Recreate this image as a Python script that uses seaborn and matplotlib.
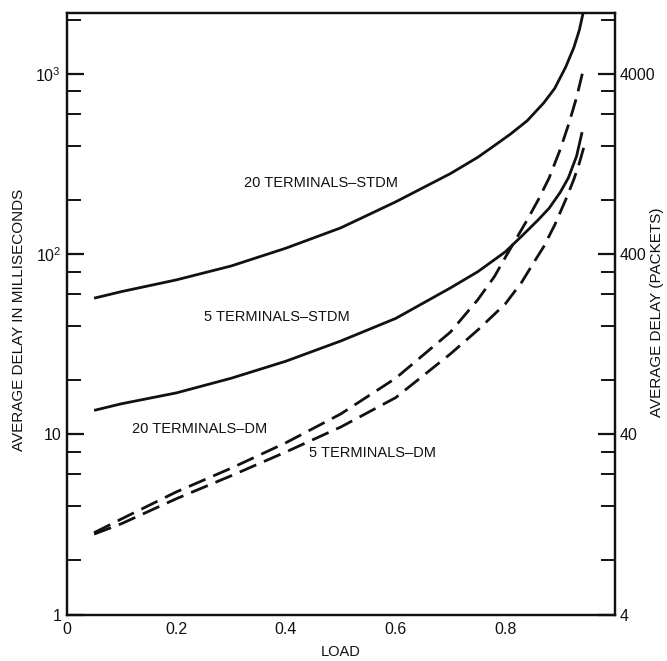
import numpy as np
import pandas as pd
import matplotlib
matplotlib.use("Agg")
import matplotlib.pyplot as plt
from matplotlib.ticker import FixedLocator, FixedFormatter, NullFormatter
import seaborn as sns

# ---- data ----
load_20_stdm = [0.05, 0.10, 0.20, 0.30, 0.40, 0.50, 0.60, 0.70, 0.75, 0.78, 0.81,
                0.84, 0.87, 0.89, 0.91, 0.925, 0.935, 0.945]
delay_20_stdm = [57, 62, 72, 86, 108, 140, 195, 280, 345, 400, 465,
                 550, 690, 830, 1090, 1400, 1750, 2400]

load_5_stdm = [0.05, 0.10, 0.20, 0.30, 0.40, 0.50, 0.60, 0.70, 0.75, 0.80, 0.83,
               0.86, 0.88, 0.90, 0.915, 0.93, 0.94]
delay_5_stdm = [13.6, 14.8, 17, 20.5, 25.5, 33, 44, 65, 80, 103, 126,
                155, 180, 220, 265, 350, 475]

load_20_dm = [0.05, 0.10, 0.20, 0.30, 0.40, 0.50, 0.60, 0.70, 0.75, 0.78, 0.80,
              0.82, 0.84, 0.86, 0.88, 0.90, 0.915, 0.93, 0.943]
delay_20_dm = [2.85, 3.4, 4.8, 6.5, 9.0, 13, 20.5, 37, 56, 75, 96,
               122, 155, 200, 265, 380, 520, 740, 1080]

load_5_dm = [0.05, 0.10, 0.20, 0.30, 0.40, 0.50, 0.60, 0.70, 0.75, 0.80, 0.83,
             0.85, 0.87, 0.89, 0.91, 0.925, 0.935, 0.943]
delay_5_dm = [2.8, 3.2, 4.4, 5.9, 8.0, 11, 16, 28, 38, 53, 70,
              88, 110, 145, 200, 260, 320, 390]

series = [
    ("20 TERMINALS\u2013STDM", load_20_stdm, delay_20_stdm, "solid"),
    ("5 TERMINALS\u2013STDM", load_5_stdm, delay_5_stdm, "solid"),
    ("20 TERMINALS\u2013DM", load_20_dm, delay_20_dm, "dashed"),
    ("5 TERMINALS\u2013DM", load_5_dm, delay_5_dm, "dashed"),
]

x_ticks = [0, 0.2, 0.4, 0.6, 0.8]
x_ticklabels = ["0", "0.2", "0.4", "0.6", "0.8"]
y_major = [1, 10, 100, 1000]
y_major_labels = ["1", "10", r"$\mathregular{10^{2}}$", r"$\mathregular{10^{3}}$"]
y_minor = [m * 10 ** k for k in range(0, 4) for m in (2, 4, 6, 8)]
r_major = [4, 40, 400, 4000]
r_major_labels = ["4", "40", "400", "4000"]
r_minor = [m * 10 ** k for k in range(0, 4) for m in (8, 16, 24, 32)]

# curve label annotations: (text, x, y)
labels = [
    ("20 TERMINALS\u2013STDM", 0.323, 247),
    ("5 TERMINALS\u2013STDM", 0.251, 45),
    ("20 TERMINALS\u2013DM", 0.119, 10.7),
    ("5 TERMINALS\u2013DM", 0.442, 7.85),
]

# ---- style ----
sns.set_theme(style="white")
plt.rcParams["font.family"] = ["Liberation Sans", "DejaVu Sans"]
plt.rcParams["mathtext.fontset"] = "custom"
plt.rcParams["mathtext.rm"] = "Liberation Sans"
plt.rcParams["mathtext.it"] = "Liberation Sans"
plt.rcParams["mathtext.bf"] = "Liberation Sans"
INK = "#111111"

fig = plt.figure(figsize=(6.67, 6.61), dpi=100)
ax = fig.add_axes([0.100, 0.070, 0.822, 0.910])

rows = []
for name, xs, ys, ls in series:
    for xv, yv in zip(xs, ys):
        rows.append({"series": name, "load": xv, "delay": yv, "kind": ls})
df = pd.DataFrame(rows)

for name, xs, ys, ls in series:
    sub = df[df["series"] == name]
    sns.lineplot(data=sub, x="load", y="delay", ax=ax, color=INK,
                 linewidth=2.0, estimator=None, sort=True, legend=False)
    line = ax.lines[-1]
    if ls == "dashed":
        line.set_dashes([6.5, 3.0])
    line.set_solid_capstyle("butt")
    line.set_dash_capstyle("butt")
    line.set_solid_joinstyle("round")

ax.set_yscale("log")
ax.set_xlim(0, 1.0)
ax.set_ylim(1, 2170)

ax.xaxis.set_major_locator(FixedLocator(x_ticks))
ax.xaxis.set_major_formatter(FixedFormatter(x_ticklabels))
ax.yaxis.set_major_locator(FixedLocator(y_major))
ax.yaxis.set_major_formatter(FixedFormatter(y_major_labels))
ax.yaxis.set_minor_locator(FixedLocator(y_minor))
ax.yaxis.set_minor_formatter(NullFormatter())

ax.tick_params(axis="both", which="major", direction="in", color=INK,
               labelcolor=INK, labelsize=11.5, width=1.6)
ax.tick_params(axis="y", which="major", length=12, pad=4)
ax.tick_params(axis="y", which="minor", direction="in", length=10,
               width=1.4, color=INK, left=True)
ax.tick_params(axis="x", which="major", length=10, pad=5)
ax.tick_params(axis="x", which="minor", bottom=False)

for sp in ax.spines.values():
    sp.set_color(INK)
    sp.set_linewidth(1.6)

ax.set_xlabel("LOAD", fontsize=10.5, color=INK, labelpad=6)
ax.set_ylabel("")
fig.text(19 / 667, 1 - 320 / 661, "AVERAGE DELAY IN MILLISECONDS", rotation=90,
         ha="center", va="center", fontsize=11, color=INK)

# right axis (packets = 4 x milliseconds)
ax2 = ax.twinx()
ax2.set_yscale("log")
ax2.set_ylim(4, 4 * 2170)
ax2.yaxis.set_major_locator(FixedLocator(r_major))
ax2.yaxis.set_major_formatter(FixedFormatter(r_major_labels))
ax2.yaxis.set_minor_locator(FixedLocator(r_minor))
ax2.yaxis.set_minor_formatter(NullFormatter())
ax2.tick_params(axis="y", which="major", direction="in", length=12,
                width=1.6, color=INK, labelcolor=INK, labelsize=11.5, pad=3)
ax2.tick_params(axis="y", which="minor", direction="in", length=10,
                width=1.4, color=INK)
for sp in ax2.spines.values():
    sp.set_color(INK)
    sp.set_linewidth(1.6)

fig.text(657 / 667, 1 - 312 / 661, "AVERAGE DELAY (PACKETS)", rotation=90,
         ha="center", va="center", fontsize=11, color=INK)

for text, xv, yv in labels:
    ax.text(xv, yv, text, fontsize=10.5, color=INK, ha="left", va="center")

fig.savefig("out.png", dpi=100, facecolor="white")
